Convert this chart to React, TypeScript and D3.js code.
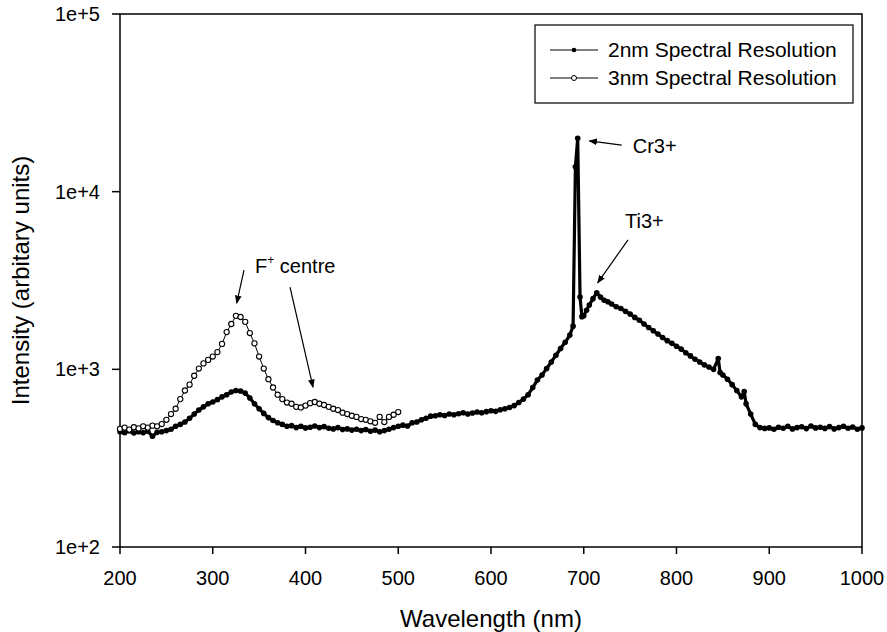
import React from "react";
import * as d3 from "d3";

// ---- data ----
const wl2nm = [
  200, 205, 210, 215, 220, 225, 230, 235, 240, 245, 250, 255, 260, 265, 270, 275, 280, 285, 290, 295,
  300, 305, 310, 315, 320, 325, 330, 335, 340, 345, 350, 355, 360, 365, 370, 375, 380, 385, 390, 395,
  400, 405, 410, 415, 420, 425, 430, 435, 440, 445, 450, 455, 460, 465, 470, 475, 480, 485, 490, 495,
  500, 505, 510, 515, 520, 525, 530, 535, 540, 545, 550, 555, 560, 565, 570, 575, 580, 585, 590, 595,
  600, 605, 610, 615, 620, 625, 630, 635, 640, 645, 650, 655, 660, 665, 670, 675, 680, 685, 688.5, 691,
  693.5, 696, 698, 700, 703, 706, 710, 714, 718, 722, 726, 730, 735, 740, 745, 750, 755, 760, 765, 770,
  775, 780, 785, 790, 795, 800, 805, 810, 815, 820, 825, 830, 835, 840, 845, 847, 850, 855, 860, 865,
  870, 873, 875, 880, 885, 890, 895, 900, 905, 910, 915, 920, 925, 930, 935, 940, 945, 950, 955, 960,
  965, 970, 975, 980, 985, 990, 995, 1000,
];
const int2nm = [
  445, 440, 450, 438, 445, 440, 448, 420, 442, 445, 452, 460, 478, 490, 505, 530, 560, 590, 615, 640,
  655, 675, 700, 720, 745, 760, 755, 735, 690, 640, 600, 565, 535, 515, 500, 490, 478, 482, 470, 478,
  468, 472, 480, 470, 476, 466, 462, 470, 458, 462, 455, 460, 452, 458, 448, 455, 445, 452, 460, 470,
  478, 485, 480, 500, 505, 520, 530, 545, 548, 555, 550, 560, 555, 562, 570, 560, 568, 575, 570, 578,
  585, 580, 592, 600, 610, 625, 650, 680, 720, 790, 870, 930, 1010, 1100, 1200, 1310, 1420, 1560, 1750, 13800,
  20000, 2550, 1980, 2000, 2150, 2300, 2500, 2700, 2550, 2450, 2400, 2330, 2250, 2200, 2120, 2050, 1960, 1890, 1800, 1720,
  1650, 1580, 1510, 1450, 1400, 1350, 1300, 1240, 1190, 1140, 1100, 1060, 1030, 1000, 1150, 960, 930, 880, 820, 760,
  700, 750, 640, 560, 490, 470, 465, 468, 460, 472, 466, 478, 462, 470, 475, 464, 480, 468, 472, 465,
  476, 462, 470, 478, 466, 474, 460, 468,
];

const wl3nm = [
  200, 205, 210, 215, 220, 225, 230, 235, 240, 245, 250, 255, 260, 265, 270, 275, 280, 285, 290, 295,
  300, 305, 310, 315, 320, 325, 330, 335, 340, 345, 350, 355, 360, 365, 370, 375, 380, 385, 390, 395,
  400, 405, 410, 415, 420, 425, 430, 435, 440, 445, 450, 455, 460, 465, 470, 475, 480, 485, 490, 495, 500,
];
const int3nm = [
  462, 470, 458, 472, 465, 478, 470, 482, 478, 492, 520, 560, 600, 680, 760, 820, 920, 1010, 1080, 1130,
  1180, 1250, 1390, 1620, 1800, 2000, 1970, 1850, 1600, 1400, 1180, 1010, 880, 790, 720, 680, 650, 640, 615, 610,
  625, 645, 655, 640, 630, 615, 600, 590, 570, 560, 548, 540, 525, 520, 510, 500, 540, 505, 540, 555, 575,
];

const xTicks = [200, 300, 400, 500, 600, 700, 800, 900, 1000];
const yTicks = [100, 1000, 10000, 100000];
const yTickLabels = ["1e+2", "1e+3", "1e+4", "1e+5"];
const seriesNames = ["2nm Spectral Resolution", "3nm Spectral Resolution"];

// annotation arrows and labels in data space
const arrows = [
  { from: [333.7, 3620], to: [325.8, 2360] },
  { from: [383.3, 2905], to: [408.1, 794] },
  { from: [740.9, 18300], to: [706, 19300] },
  { from: [747.7, 5350], to: [715, 3070] },
];
const labels = [
  { text: "Cr3+", x: 752.8, y: 16500 },
  { text: "Ti3+", x: 744.5, y: 6240 },
];
const fLabel = { x: 345.6, y: 3480 };

const W = 887;
const H = 632;
const FONT = "'Liberation Sans', Arial, Helvetica, sans-serif";

export default function App() {
  const x = d3.scaleLinear().domain([200, 1000]).range([120, 862]);
  const y = d3.scaleLog().domain([100, 100000]).range([547, 14]);

  const d2 = wl2nm.map((w, i) => [w, int2nm[i]] as [number, number]);
  const d3s = wl3nm.map((w, i) => [w, int3nm[i]] as [number, number]);
  const line = d3
    .line<[number, number]>()
    .x((d) => x(d[0]))
    .y((d) => y(d[1]));

  const [x0, x1] = x.range();
  const [yb, yt] = y.range();

  return (
    <svg
      width={W}
      height={H}
      style={{ position: "absolute", left: 0, top: 0, background: "#fff" }}
      fontFamily={FONT}
    >
      <defs>
        <marker id="ah" viewBox="0 0 10 10" refX="9" refY="5" markerWidth="7" markerHeight="7" orient="auto">
          <path d="M0,1 L10,5 L0,9 Z" fill="#000" />
        </marker>
      </defs>
      <rect width={W} height={H} fill="#fff" />

      {/* frame */}
      <rect x={x0} y={yt} width={x1 - x0} height={yb - yt} fill="none" stroke="#000" strokeWidth={1.5} />

      {/* x ticks */}
      {xTicks.map((t) => (
        <g key={t}>
          <line x1={x(t)} x2={x(t)} y1={yb} y2={yb + 7} stroke="#000" strokeWidth={1.5} />
          <text x={x(t)} y={yb + 38} textAnchor="middle" fontSize={20} fill="#000">
            {t}
          </text>
        </g>
      ))}
      {/* y ticks */}
      {yTicks.map((t, i) => (
        <g key={t}>
          <line x1={x0 - 8} x2={x0} y1={y(t)} y2={y(t)} stroke="#000" strokeWidth={1.5} />
          <text x={x0 - 20} y={y(t) + 7} textAnchor="end" fontSize={20} fill="#000">
            {yTickLabels[i]}
          </text>
        </g>
      ))}

      {/* axis titles */}
      <text x={(x0 + x1) / 2} y={627} textAnchor="middle" fontSize={24} fill="#000">
        Wavelength (nm)
      </text>
      <text
        transform={`translate(29,${(yb + yt) / 2}) rotate(-90)`}
        textAnchor="middle"
        fontSize={24}
        fill="#000"
      >
        Intensity (arbitary units)
      </text>

      {/* series 2nm */}
      <path d={line(d2) || ""} fill="none" stroke="#000" strokeWidth={3.2} strokeLinejoin="round" />
      {d2.map((d, i) => (
        <circle key={"a" + i} cx={x(d[0])} cy={y(d[1])} r={2.8} fill="#000" />
      ))}
      {/* series 3nm */}
      <path d={line(d3s) || ""} fill="none" stroke="#000" strokeWidth={1} />
      {d3s.map((d, i) => (
        <circle key={"b" + i} cx={x(d[0])} cy={y(d[1])} r={2.6} fill="#fff" stroke="#000" strokeWidth={1.1} />
      ))}

      {/* annotations */}
      {arrows.map((a, i) => (
        <line
          key={"ar" + i}
          x1={x(a.from[0])}
          y1={y(a.from[1])}
          x2={x(a.to[0])}
          y2={y(a.to[1])}
          stroke="#000"
          strokeWidth={1.2}
          markerEnd="url(#ah)"
        />
      ))}
      {labels.map((l, i) => (
        <text key={"l" + i} x={x(l.x)} y={y(l.y)} fontSize={20} fill="#000">
          {l.text}
        </text>
      ))}
      <text x={x(fLabel.x)} y={y(fLabel.y)} fontSize={20} fill="#000">
        F
        <tspan fontSize={12} dy={-9}>
          +
        </tspan>
        <tspan dy={9}> centre</tspan>
      </text>

      {/* legend */}
      <rect x={535} y={25} width={318} height={78} fill="#fff" stroke="#000" strokeWidth={1.2} />
      {seriesNames.map((n, i) => {
        const cy = 50 + i * 28;
        return (
          <g key={n}>
            <line x1={550} x2={598} y1={cy} y2={cy} stroke="#000" strokeWidth={1.2} />
            {i === 0 ? (
              <circle cx={574} cy={cy} r={2.3} fill="#000" />
            ) : (
              <circle cx={574} cy={cy} r={2.5} fill="#fff" stroke="#000" strokeWidth={1} />
            )}
            <text x={608} y={cy + 7} fontSize={21} fill="#000">
              {n}
            </text>
          </g>
        );
      })}
    </svg>
  );
}
